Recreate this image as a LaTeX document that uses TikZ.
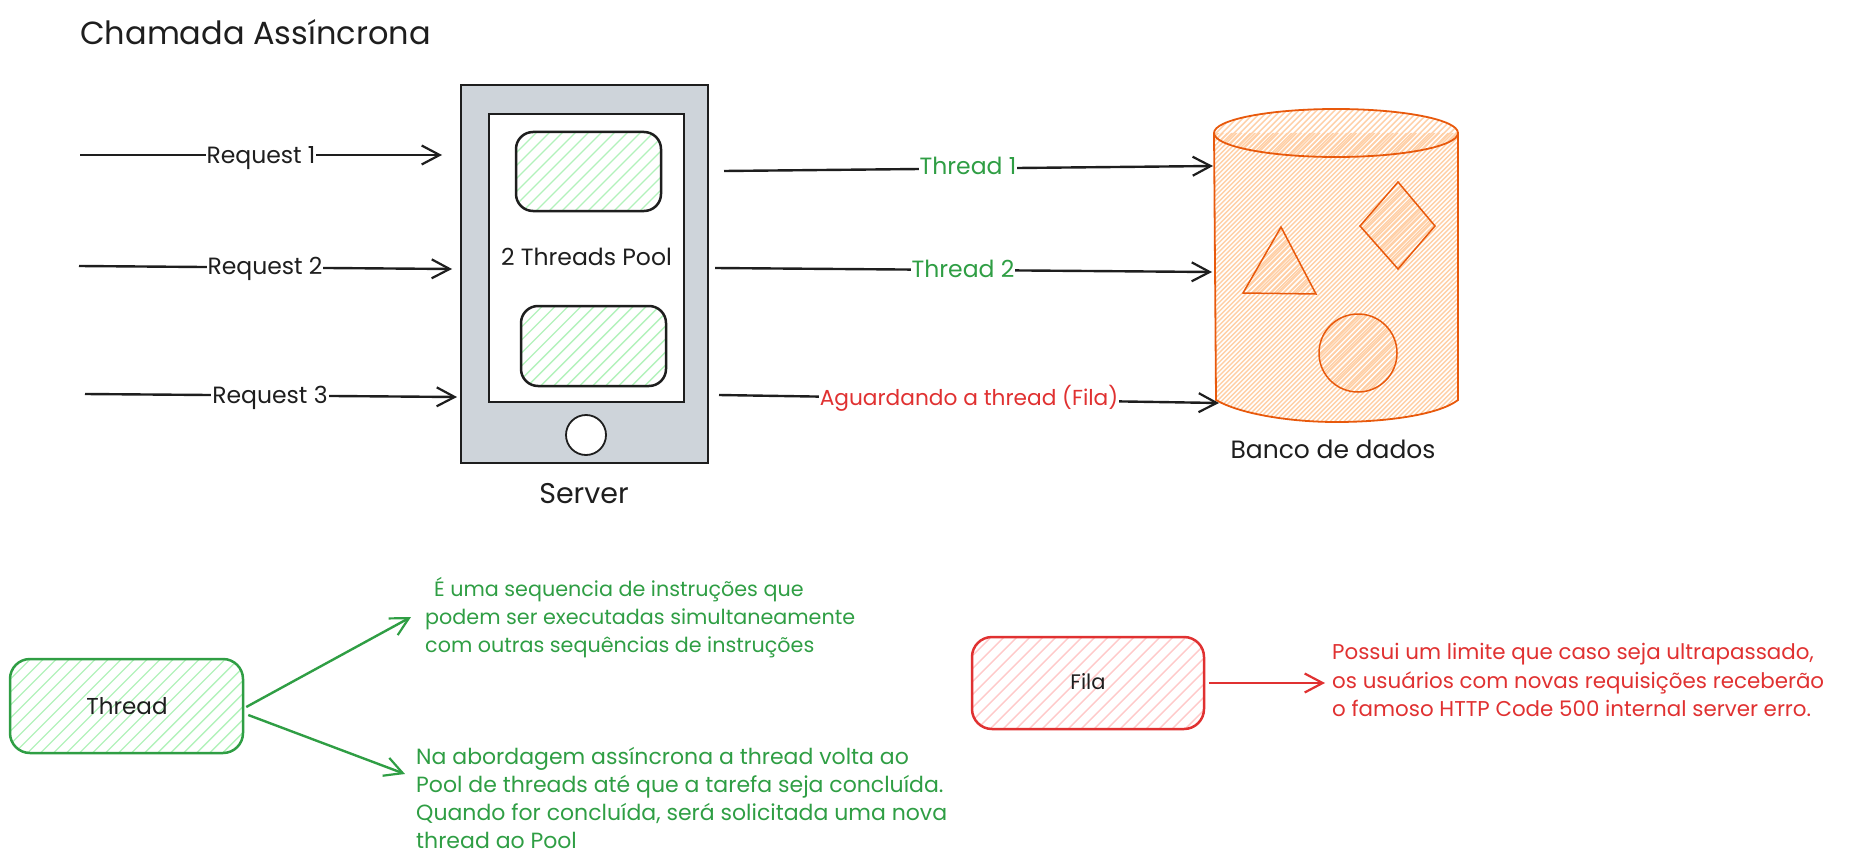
\documentclass[tikz,border=0pt]{standalone}
\usepackage{fontspec}
\setmainfont{Poppins}
\usetikzlibrary{arrows.meta}
\definecolor{inkblack}{HTML}{1E1E1E}
\definecolor{inkgreen}{HTML}{2F9E44}
\definecolor{inkred}{HTML}{E03131}
\definecolor{inkorange}{HTML}{E8590C}
\definecolor{hatchgreen}{HTML}{B2F2BB}
\definecolor{hatchred}{HTML}{FFC9C9}
\definecolor{hatchorange}{HTML}{FFCFA6}
\definecolor{servergray}{HTML}{CED4DA}
\tikzset{
  hatch/.style 2 args={path picture={
    \foreach \k in {-70,...,70} {
      \draw[#1, line width=1.4pt] ([xshift=\k*#2 pt]path picture bounding box.center)
        ++(-300pt,-300pt) -- ++(600pt,600pt);
    }}},
  box/.style={draw, rounded corners=#1, line width=2.5pt, inner sep=0pt},
  thin box/.style={draw=inkblack, line width=1.8pt, inner sep=0pt},
  thread box/.style={box=17pt, draw=inkblack, hatch={hatchgreen}{13},
    minimum width=145pt, minimum height=79pt},
  solid arrow/.style={-{Straight Barb[length=18pt,width=19pt,line width=2.2pt]}, line width=2.4pt},
  arrow label/.style={fill=white, inner xsep=1pt, inner ysep=1pt},
  free text/.style={anchor=west, align=left, inner sep=0pt},
  db shape/.style={draw=inkorange, line width=1.5pt, hatch={hatchorange}{6}},
}
\begin{document}
\begin{tikzpicture}[x=1pt,y=-1pt]
  \useasboundingbox (0,0) rectangle (1860,864);
  \node[anchor=west, inner sep=0pt, text=inkblack, font=\fontsize{32}{38}\selectfont] (title) at (80,32) {Chamada Assíncrona};

  % server
  \node[thin box, fill=servergray, minimum width=247pt, minimum height=378pt] (server) at (584.5,274) {};
  \node[thin box, fill=white, minimum width=195pt, minimum height=288pt] (screen) at (586.5,258) {};
  \node[thread box] (slot1) at (588.5,171.5) {};
  \node[thread box, minimum height=80pt] (slot2) at (593.5,346) {};
  \node[text=inkblack, inner sep=0pt, font=\fontsize{23.5}{28}\selectfont] (pool) at (586.5,257) {2 Threads Pool};
  \node[circle, thin box, fill=white, minimum size=40pt] (button) at (586,435) {};
  \node[text=inkblack, inner sep=0pt, font=\fontsize{28.5}{34}\selectfont] (serverlabel) at (584,494) {Server};

  % database
  \path[hatch={hatchorange}{4.6}] (1214,133) -- (1216,400)
    .. controls (1240,414) and (1290,422) .. (1336,422)
    .. controls (1390,422) and (1440,414) .. (1458,400) -- (1458,133) -- cycle;
  \draw[inkorange, line width=1.8pt] (1214,133) -- (1216,400)
    .. controls (1240,414) and (1290,422) .. (1336,422)
    .. controls (1390,422) and (1440,414) .. (1458,400) -- (1458,133);
  \draw[inkorange, line width=1.8pt, hatch={hatchorange}{6}] (1336,133) ellipse [x radius=122, y radius=24];
  \draw[db shape] (1281,227) -- (1243,293) -- (1316,294) -- cycle;
  \draw[db shape] (1398,182) -- (1435,226) -- (1398,269) -- (1360,226) -- cycle;
  \draw[db shape] (1358,353) circle [radius=39];
  \node[text=inkblack, inner sep=0pt, font=\fontsize{25}{30}\selectfont] (dblabel) at (1333,449) {Banco de dados};

  % requests and threads
  \foreach \n/\xa/\ya/\xb/\yb/\xl/\yl/\col/\size/\lab in {
    r1/80/155/442/155/261/158/inkblack/23.5/{Request 1},
    r2/79/266/452/269/265/269/inkblack/23.5/{Request 2},
    r3/85/394/457/397/270/398/inkblack/23.5/{Request 3},
    t1/724/171/1213/166/968/166/inkgreen/23.5/{Thread 1},
    t2/715/268/1212/272/963/269/inkgreen/23.5/{Thread 2},
    t3/719/395/1219/403/969/398/inkred/21.7/{Aguardando a thread (Fila)}} {
    \coordinate (\n from) at (\xa,\ya);
    \coordinate (\n to) at (\xb,\yb);
    \draw[solid arrow, inkblack] (\n from) -- (\n to);
    \node[arrow label, text=\col, font=\fontsize{\size}{28}\selectfont] (\n label) at (\xl,\yl) {\lab};
  }

  % legend
  \node[box=20pt, draw=inkgreen, hatch={hatchgreen}{13}, minimum width=233pt, minimum height=94pt] (thread) at (126.5,706) {};
  \node[text=inkblack, inner sep=0pt, font=\fontsize{23}{28}\selectfont] (threadlabel) at (127,706) {Thread};
  \node[box=20pt, draw=inkred, hatch={hatchred}{13}, minimum width=232pt, minimum height=92pt] (fila) at (1088,683) {};
  \node[text=inkblack, inner sep=0pt, font=\fontsize{21}{25}\selectfont] (filalabel) at (1088,682) {Fila};

  \node[free text, text=inkgreen, font=\fontsize{20.7}{28}\selectfont] (what) at (425,618) {\hspace{9pt}É uma sequencia de instruções que\\podem ser executadas simultaneamente\\com outras sequências de instruções};
  \node[free text, text=inkgreen, font=\fontsize{22}{28}\selectfont] (how) at (416,798) {Na abordagem assíncrona a thread volta ao\\Pool de threads até que a tarefa seja concluída.\\Quando for concluída, será solicitada uma nova\\thread ao Pool};
  \node[free text, text=inkred, font=\fontsize{21.4}{28.5}\selectfont] (limit) at (1332,680) {Possui um limite que caso seja ultrapassado,\\os usuários com novas requisições receberão\\o famoso HTTP Code 500 internal server erro.};

  \coordinate (whatend) at (411,617);
  \coordinate (howend) at (405,774);
  \coordinate (limitend) at (1325,683);
  \draw[solid arrow, inkgreen] (thread.east) ++(2,1) -- (whatend);
  \draw[solid arrow, inkgreen] (thread.east) ++(4,9) -- (howend);
  \draw[solid arrow, inkred] (fila.east) ++(4,0) -- (limitend);
\end{tikzpicture}
\end{document}
